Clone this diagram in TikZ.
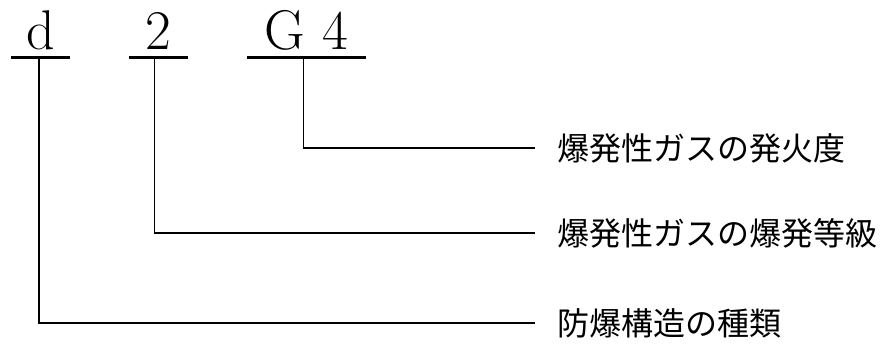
\documentclass[tikz,border=0pt]{standalone}
\usepackage{fontspec}
\newfontfamily\jpfont{Noto Sans CJK JP}

\begin{document}
\begin{tikzpicture}[x=1pt, y=-1pt,
        code/.style={anchor=base, inner sep=0pt, font=\fontsize{56}{56}\selectfont},
        lbl/.style={anchor=west, inner xsep=22pt, inner ysep=0pt, font=\jpfont\fontsize{32}{32}\selectfont},
        uline/.style={line width=3pt},
        conn/.style={line width=1.2pt}]
            \useasboundingbox (0,0) rectangle (882,352);

            %nodes
            \node[code, minimum width=59pt] (d) at (40.5,50) {d};
            \node[code, minimum width=59pt] (two) at (158.5,50) {2};
            \node[code, minimum width=119pt] (g) at (306.5,50) {G 4};

            \node[lbl] (hakka) at (535,148) {爆発性ガスの発火度};
            \node[lbl] (tokyu) at (535,233) {爆発性ガスの爆発等級};
            \node[lbl] (kozo) at (535,323) {防爆構造の種類};

            %underlines
            \draw[uline] ([yshift=-8pt]d.base west) -- ([yshift=-8pt]d.base east);
            \draw[uline] ([yshift=-8pt]two.base west) -- ([yshift=-8pt]two.base east);
            \draw[uline] ([yshift=-8pt]g.base west) -- ([yshift=-8pt]g.base east);

            %edges
            \draw[conn] ([xshift=-3pt, yshift=-9pt]g.base) |- (hakka.west);
            \draw[conn] ([xshift=-4pt, yshift=-9pt]two.base) |- (tokyu.west);
            \draw[conn] ([xshift=-1.5pt, yshift=-9pt]d.base) |- (kozo.west);
        \end{tikzpicture}
\end{document}
